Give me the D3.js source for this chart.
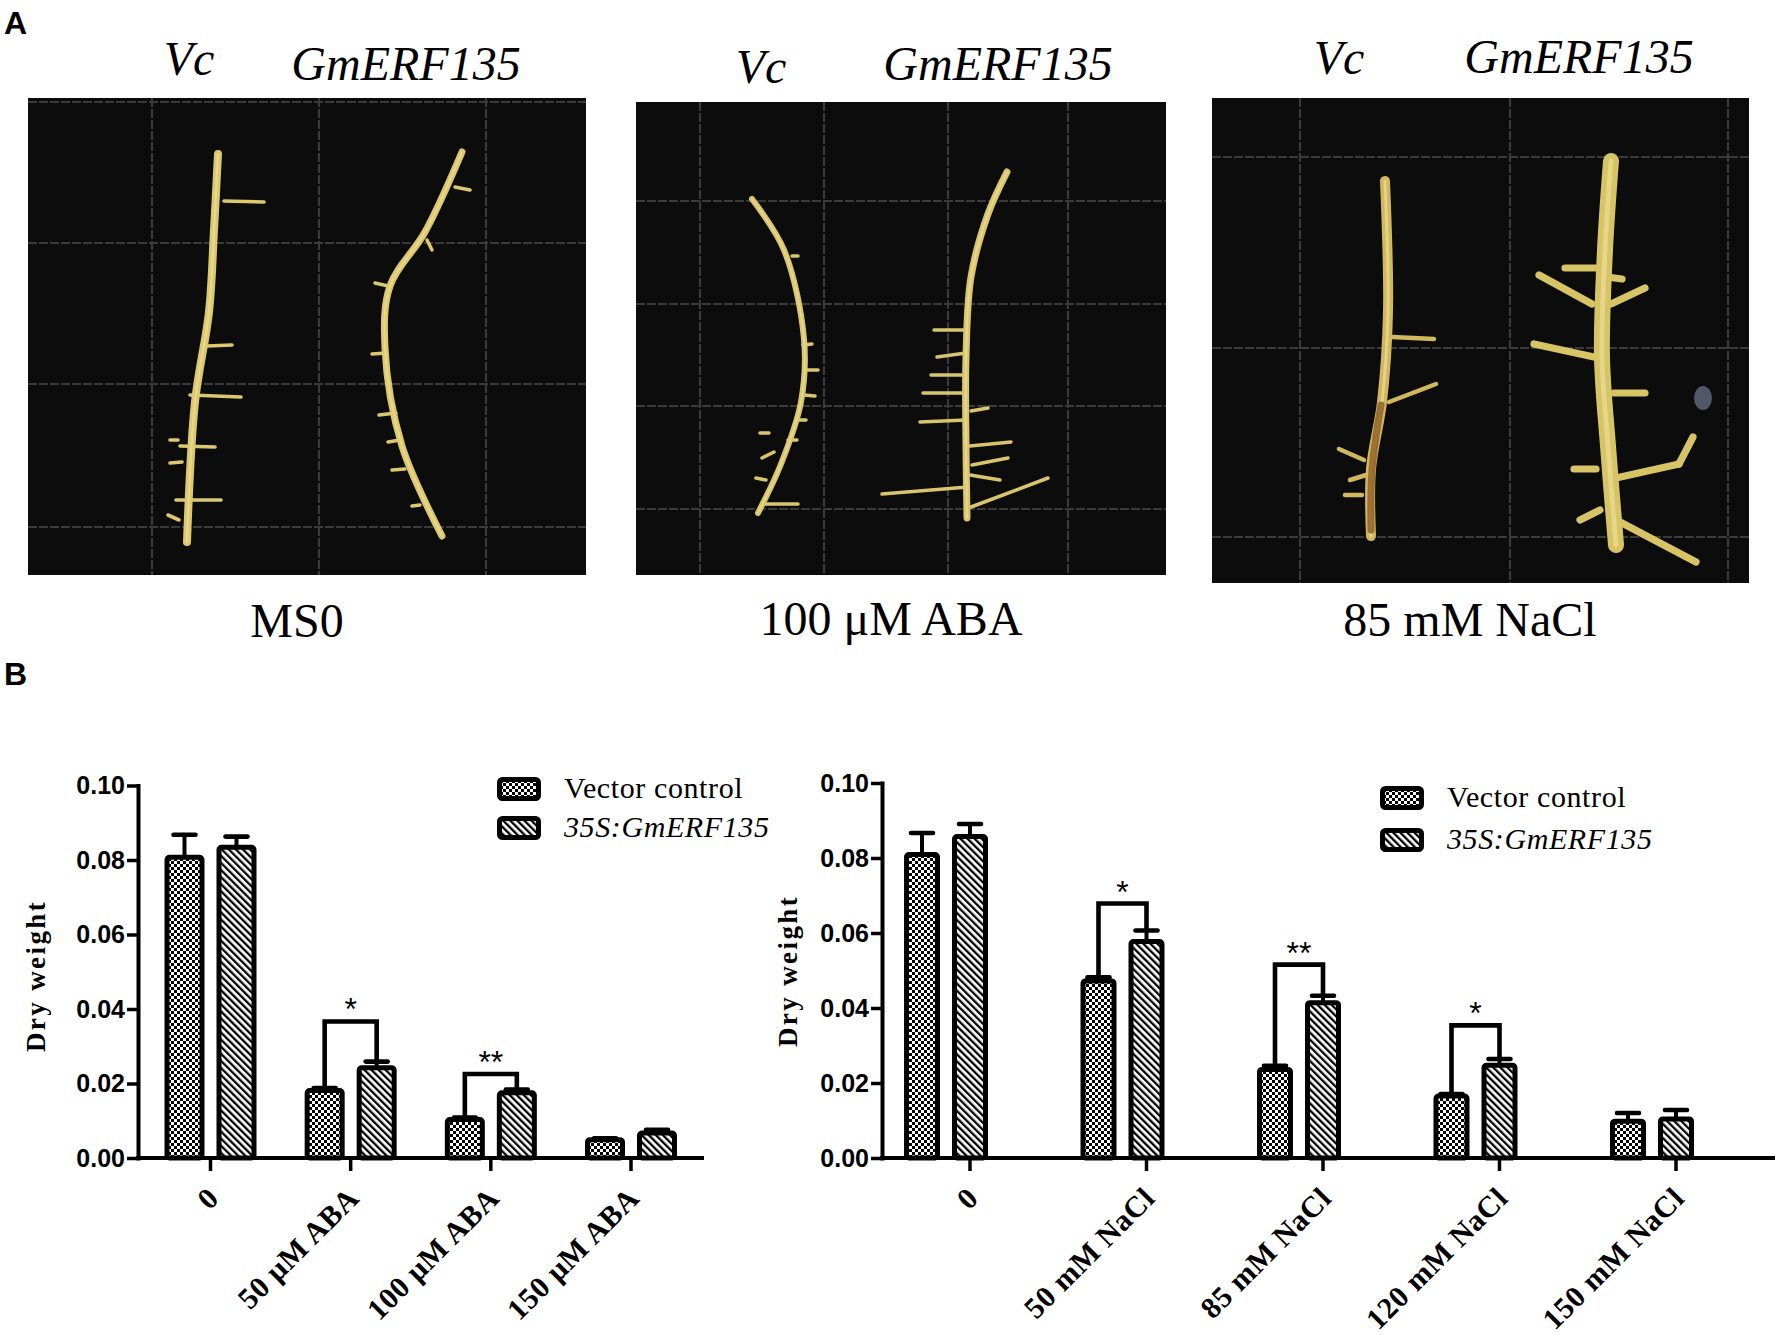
<!DOCTYPE html>
<html><head><meta charset="utf-8">
<script src="https://cdn.jsdelivr.net/npm/d3@7"></script>
<style>html,body{margin:0;padding:0;background:#fff}</style>
</head><body>
<script>
// ===================== DATA =====================
const seriesNames = ["Vector control", "35S:GmERF135"];
const yTicks = [0, 0.02, 0.04, 0.06, 0.08, 0.10];

const abaCategories = ["0", "50 μM ABA", "100 μM ABA", "150 μM ABA"];
const abaControl    = [0.0814, 0.0188, 0.0110, 0.0056];
const abaControlErr = [0.0060, 0.0006, 0.0005, 0.0003];
const abaGm         = [0.0841, 0.0249, 0.0182, 0.0074];
const abaGmErr      = [0.0028, 0.0016, 0.0008, 0.0008];
const abaSig        = ["", "*", "**", ""];
const abaSigLevel   = [null, 0.0372, 0.0231, null];

const naclCategories = ["0", "50 mM NaCl", "85 mM NaCl", "120 mM NaCl", "150 mM NaCl"];
const naclControl    = [0.0816, 0.0479, 0.0243, 0.0172, 0.0105];
const naclControlErr = [0.0057, 0.0009, 0.0009, 0.0005, 0.0021];
const naclGm         = [0.0864, 0.0584, 0.0421, 0.0254, 0.0111];
const naclGmErr      = [0.0033, 0.0029, 0.0018, 0.0016, 0.0023];
const naclSig        = ["", "*", "**", "*", ""];
const naclSigLevel   = [null, 0.0684, 0.0521, 0.0359, null];

const photoConditions = ["MS0", "100 μM ABA", "85 mM NaCl"];
const photoLines = ["Vc", "GmERF135"];

// ===================== SETUP =====================
const W = 1775, H = 1335;
const SERIF = "'Liberation Serif','Times New Roman',serif";
const SANS = "'Liberation Sans',Arial,sans-serif";
const svg = d3.select("body").append("svg")
  .attr("width", W).attr("height", H).attr("viewBox", `0 0 ${W} ${H}`)
  .style("display", "block");
svg.append("rect").attr("width", W).attr("height", H).attr("fill", "#fff");

const defs = svg.append("defs");
const chk = defs.append("pattern").attr("id", "checker")
  .attr("patternUnits", "userSpaceOnUse").attr("width", 6).attr("height", 6);
chk.append("rect").attr("width", 6).attr("height", 6).attr("fill", "#fff");
chk.append("rect").attr("width", 3).attr("height", 3).attr("fill", "#000");
chk.append("rect").attr("x", 3).attr("y", 3).attr("width", 3).attr("height", 3).attr("fill", "#000");
const hatch = defs.append("pattern").attr("id", "hatch")
  .attr("patternUnits", "userSpaceOnUse").attr("width", 5).attr("height", 5)
  .attr("patternTransform", "rotate(-45)");
hatch.append("rect").attr("width", 5).attr("height", 5).attr("fill", "#fff");
hatch.append("rect").attr("width", 2.3).attr("height", 5).attr("fill", "#000");

// ===================== PANEL A (photo illustration) =====================
const photoBoxes = [
  {x: 28, y: 98, w: 558, h: 477, gx: [152, 319, 486], gy: [102, 243, 384, 527],
   cond: {x: 297, y: 637}, vc: {x: 189, y: 75}, gm: {x: 406, y: 80}},
  {x: 636, y: 102, w: 530, h: 473, gx: [700, 824, 948, 1068], gy: [201, 304, 406, 509],
   cond: {x: 891, y: 635}, vc: {x: 761, y: 83}, gm: {x: 998, y: 80}},
  {x: 1212, y: 98, w: 537, h: 485, gx: [1300, 1510, 1728], gy: [157, 348, 537],
   cond: {x: 1470, y: 636}, vc: {x: 1339, y: 74}, gm: {x: 1579, y: 73}}
];
const pA = svg.append("g");
photoBoxes.forEach((b, i) => {
  pA.append("rect").attr("x", b.x).attr("y", b.y).attr("width", b.w).attr("height", b.h).attr("fill", "#0c0c0c");
  const gg = pA.append("g").attr("stroke", "#3a3a3a").attr("stroke-width", 2.2).attr("stroke-dasharray", "9 2");
  b.gx.forEach(x => gg.append("line").attr("x1", x).attr("x2", x).attr("y1", b.y).attr("y2", b.y + b.h));
  b.gy.forEach(y => gg.append("line").attr("x1", b.x).attr("x2", b.x + b.w).attr("y1", y).attr("y2", y));
  pA.append("text").attr("x", b.vc.x).attr("y", b.vc.y).attr("text-anchor", "middle")
    .attr("font-family", SERIF).attr("font-style", "italic").attr("font-size", 48).text(photoLines[0]);
  pA.append("text").attr("x", b.gm.x).attr("y", b.gm.y).attr("text-anchor", "middle")
    .attr("font-family", SERIF).attr("font-style", "italic").attr("font-size", 48).text(photoLines[1]);
  pA.append("text").attr("x", b.cond.x).attr("y", b.cond.y).attr("text-anchor", "middle")
    .attr("font-family", SERIF).attr("font-size", 48).text(photoConditions[i]);
});
// stylised roots (decoration for the photographs)
const roots = [
  {w: 8, c: "#dcc86e", trunk: [[218,154],[214,230],[209,312],[195,402],[187,542]],
   lat: [[[224,201],[264,202]],[[207,346],[232,345]],[[190,395],[241,397]],[[180,446],[215,447]],[[176,500],[221,500]],[[182,462],[170,463]],[[178,440],[170,440]],[[179,520],[168,515]]]},
  {w: 7, c: "#dcc86e", trunk: [[462,152],[425,232],[390,286],[385,348],[402,446],[442,536]],
   lat: [[[455,187],[470,190]],[[427,240],[432,250]],[[388,286],[375,283]],[[386,353],[372,354]],[[396,413],[379,415]],[[400,440],[388,442]],[[405,469],[392,470]],[[420,505],[412,506]]]},
  {w: 6, c: "#d8c56e", trunk: [[752,199],[784,250],[804,339],[801,402],[781,464],[758,513]],
   lat: [[[792,256],[798,256]],[[806,370],[818,370]],[[804,395],[815,396]],[[803,345],[812,344]],[[798,420],[806,420]],[[769,433],[760,433]],[[774,452],[762,458]],[[766,480],[756,478]],[[763,504],[798,504]],[[788,440],[797,440]]]},
  {w: 7, c: "#d8c56e", trunk: [[1007,172],[988,214],[971,277],[966,357],[966,446],[967,518]],
   lat: [[[966,330],[934,330]],[[966,353],[937,357]],[[964,375],[931,375]],[[964,393],[923,393]],[[971,411],[988,408]],[[966,420],[920,422]],[[970,446],[1011,442]],[[968,487],[882,494]],[[971,507],[1048,478]],[[972,465],[1008,458]],[[970,475],[1000,480]]]},
  {w: 10, c: "#d2b85c", trunk: [[1385,181],[1388,312],[1382,402],[1371,469],[1371,536]],
   lat: [[[1392,337],[1434,339]],[[1389,402],[1436,384]],[[1364,460],[1339,449]],[[1362,495],[1345,495]],[[1366,475],[1350,480]]]},
  {w: 16, c: "#d6c465", trunk: [[1611,161],[1605,250],[1602,357],[1608,446],[1616,545]],
   lat: [[[1599,268],[1565,268]],[[1607,277],[1622,279]],[[1592,304],[1539,275]],[[1611,304],[1645,288]],[[1594,357],[1534,344]],[[1614,393],[1645,393]],[[1596,469],[1574,469]],[[1616,478],[1679,464]],[[1679,464],[1693,437]],[[1620,522],[1696,562]],[[1600,510],[1580,520]]]}
];
const rootLine = d3.line().curve(d3.curveCatmullRom);
const rg = pA.append("g").attr("fill", "none").attr("stroke-linecap", "round").attr("stroke-linejoin", "round");
roots.forEach(r => {
  r.lat.forEach(l => rg.append("path").attr("d", rootLine(l)).attr("stroke", r.c).attr("stroke-width", Math.max(3.5, r.w * 0.45)));
  rg.append("path").attr("d", rootLine(r.trunk)).attr("stroke", r.c).attr("stroke-width", r.w);
  rg.append("path").attr("d", rootLine(r.trunk)).attr("stroke", "#efe3a4").attr("stroke-width", r.w * 0.3).attr("opacity", 0.6);
});
// brownish lower part of Vc root in NaCl and a small debris speck
rg.append("path").attr("d", rootLine([[1381,405],[1372,470],[1371,530]])).attr("stroke", "#8a5a22").attr("stroke-width", 7).attr("opacity", 0.8);
pA.append("ellipse").attr("cx", 1703).attr("cy", 398).attr("rx", 9).attr("ry", 12).attr("fill", "#6f7690").attr("opacity", 0.7);

// panel letters
svg.append("text").attr("x", 4).attr("y", 34).attr("font-family", SANS).attr("font-weight", "bold").attr("font-size", 32).text("A");
svg.append("text").attr("x", 4).attr("y", 685).attr("font-family", SANS).attr("font-weight", "bold").attr("font-size", 32).text("B");

// ===================== PANEL B (bar charts) =====================
function drawChart(o) {
  const g = svg.append("g");
  const y = d3.scaleLinear().domain([0, 0.1]).range([o.yBottom, o.yTop]);
  const gx = d3.scalePoint().domain(o.categories).range(o.groupRange);
  const series = [
    {vals: o.control, errs: o.controlErr, fill: "url(#checker)", dx: -o.offset},
    {vals: o.gm, errs: o.gmErr, fill: "url(#hatch)", dx: o.offset}
  ];
  series.forEach(s => {
    const data = o.categories.map((c, i) => ({c, v: s.vals[i], e: s.errs[i]}));
    const eg = g.append("g").attr("stroke", "#000");
    eg.selectAll("line.stem").data(data).join("line").attr("class", "stem")
      .attr("x1", d => gx(d.c) + s.dx).attr("x2", d => gx(d.c) + s.dx)
      .attr("y1", d => y(d.v) + 3).attr("y2", d => y(d.v + d.e) + 2)
      .attr("stroke-width", 4);
    eg.selectAll("line.cap").data(data).join("line").attr("class", "cap")
      .attr("x1", d => gx(d.c) + s.dx - o.capHalf).attr("x2", d => gx(d.c) + s.dx + o.capHalf)
      .attr("y1", d => y(d.v + d.e) + 2.3).attr("y2", d => y(d.v + d.e) + 2.3)
      .attr("stroke-width", 4.6).attr("stroke-linecap", "round");
    g.append("g").selectAll("rect").data(data).join("rect")
      .attr("x", d => gx(d.c) + s.dx - o.barW / 2).attr("width", o.barW)
      .attr("y", d => y(d.v) + 2.5).attr("height", d => Math.max(0, y(0) - y(d.v) - 2.5))
      .attr("fill", s.fill).attr("stroke", "#000").attr("stroke-width", 5).attr("rx", 2.5);
  });

  // significance brackets
  const sig = o.categories.map((c, i) => ({c, s: o.sig[i], h: o.sigLevel[i],
    lv: o.control[i], rv: o.gm[i] + o.gmErr[i]})).filter(d => d.s);
  g.append("g").selectAll("path").data(sig).join("path")
    .attr("d", d => {
      const xl = gx(d.c) - o.offset, xr = gx(d.c) + o.offset;
      return `M${xl},${y(d.lv) + 2}V${y(d.h) + 2}H${xr}V${y(d.rv) + 2}`;
    })
    .attr("fill", "none").attr("stroke", "#000").attr("stroke-width", 4.6);
  g.append("g").selectAll("text").data(sig).join("text")
    .attr("x", d => gx(d.c)).attr("y", d => y(d.h) + 1)
    .attr("text-anchor", "middle").attr("font-family", SANS).attr("font-size", 32)
    .text(d => d.s);

  // y axis
  const ya = g.append("g").attr("transform", `translate(${o.axisX0},0)`)
    .call(d3.axisLeft(y).tickValues(yTicks).tickFormat(d3.format(".2f")).tickSize(11).tickSizeOuter(0).tickPadding(2));
  ya.select(".domain").attr("stroke-width", 4).attr("stroke-linecap", "square");
  ya.selectAll(".tick line").attr("stroke-width", 3.5);
  ya.selectAll(".tick text").attr("font-family", SANS).attr("font-weight", "bold").attr("font-size", 25).attr("fill", "#000");

  // x axis
  g.append("line").attr("x1", o.axisX0 - 2).attr("x2", o.axisX1).attr("y1", o.yBottom).attr("y2", o.yBottom)
    .attr("stroke", "#000").attr("stroke-width", 4);
  const tg = g.append("g").selectAll("g").data(o.categories).join("g")
    .attr("transform", c => `translate(${gx(c) + o.tickOffset},${o.yBottom})`);
  tg.append("line").attr("y1", 0).attr("y2", 13).attr("stroke", "#000").attr("stroke-width", 3.5);
  tg.append("text").attr("transform", "translate(10,42) rotate(-45)")
    .attr("text-anchor", "end").attr("font-family", SERIF).attr("font-weight", "bold")
    .attr("font-size", 30).attr("letter-spacing", 0.5).text(c => c);

  // y label
  g.append("text").attr("transform", `translate(${o.ylab[0]},${o.ylab[1]}) rotate(-90)`)
    .attr("text-anchor", "middle").attr("font-family", SERIF).attr("font-weight", "bold")
    .attr("font-size", 27).attr("letter-spacing", 2.4).text("Dry weight");

  // legend
  const lg = g.append("g").attr("transform", `translate(${o.legend[0]},${o.legend[1]})`);
  const items = lg.selectAll("g").data(seriesNames).join("g")
    .attr("transform", (d, i) => `translate(0,${i * o.legendGap})`);
  items.append("rect").attr("x", 2.5).attr("y", 2.5).attr("width", 39).attr("height", 19).attr("rx", 3)
    .attr("fill", (d, i) => i === 0 ? "url(#checker)" : "url(#hatch)")
    .attr("stroke", "#000").attr("stroke-width", 5);
  items.append("text").attr("x", 67).attr("y", 21)
    .attr("font-family", SERIF).attr("font-size", 30).attr("letter-spacing", 0.6)
    .attr("font-style", (d, i) => i === 1 ? "italic" : "normal").text(d => d);
}

drawChart({
  categories: abaCategories, control: abaControl, controlErr: abaControlErr,
  gm: abaGm, gmErr: abaGmErr, sig: abaSig, sigLevel: abaSigLevel,
  axisX0: 138, axisX1: 704, yTop: 785.5, yBottom: 1158,
  groupRange: [210.5, 631], offset: 26, barW: 35, capHalf: 11, tickOffset: 0,
  ylab: [45, 976], legend: [497, 777], legendGap: 39
});
drawChart({
  categories: naclCategories, control: naclControl, controlErr: naclControlErr,
  gm: naclGm, gmErr: naclGmErr, sig: naclSig, sigLevel: naclSigLevel,
  axisX0: 882, axisX1: 1775, yTop: 783, yBottom: 1158,
  groupRange: [946, 1652], offset: 24, barW: 31, capHalf: 11, tickOffset: 24,
  ylab: [797, 971], legend: [1380, 786], legendGap: 42
});
</script>
</body></html>
